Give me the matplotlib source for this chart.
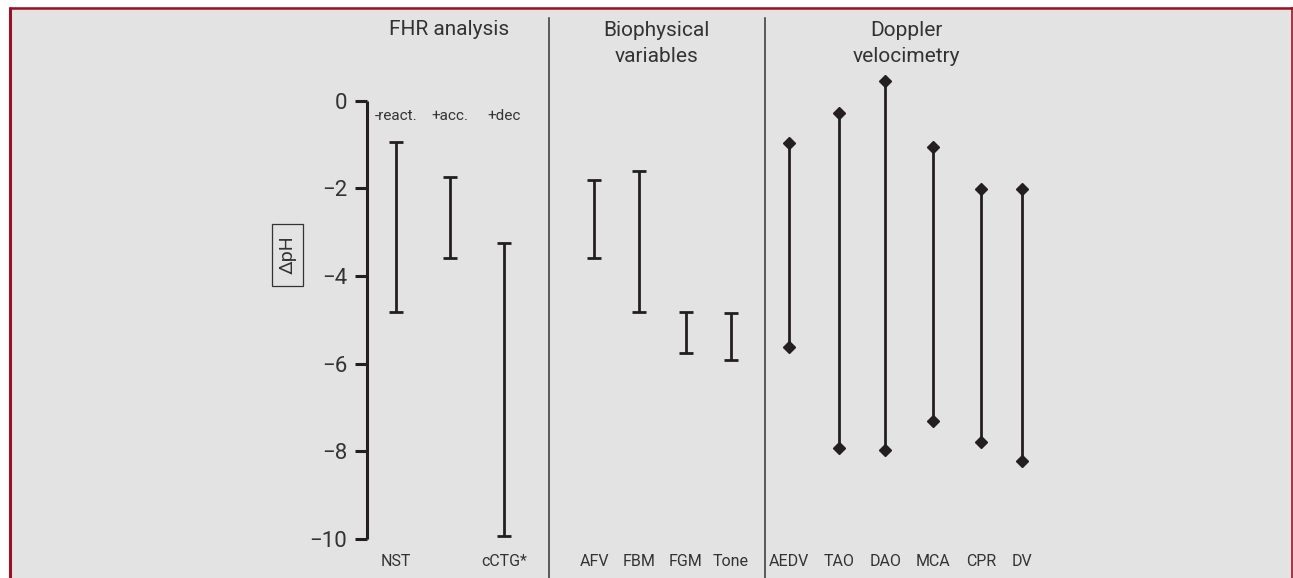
import matplotlib
matplotlib.use("Agg")
import matplotlib.pyplot as plt
from matplotlib.patches import Rectangle
from matplotlib.lines import Line2D
from matplotlib.transforms import blended_transform_factory

plt.rcParams['font.family'] = ['Roboto', 'DejaVu Sans']

# ---------------- data ----------------
fhr_top_labels = ["-react.", "+acc.", "+dec"]
fhr_bottom_labels = ["NST", "", "cCTG*"]
fhr_low = [-4.82, -3.58, -9.93]
fhr_high = [-0.94, -1.73, -3.25]

bio_labels = ["AFV", "FBM", "FGM", "Tone"]
bio_low = [-3.60, -4.82, -5.76, -5.92]
bio_high = [-1.81, -1.60, -4.83, -4.84]

dop_labels = ["AEDV", "TAO", "DAO", "MCA", "CPR", "DV"]
dop_low = [-5.63, -7.93, -7.97, -7.32, -7.79, -8.23]
dop_high = [-0.96, -0.29, 0.45, -1.06, -2.01, -2.02]

group_titles = ["FHR analysis", "Biophysical\nvariables", "Doppler\nvelocimetry"]
yticks = [0, -2, -4, -6, -8, -10]
y_label = "ΔpH"

# ---------------- layout ----------------
fhr_x = [1.0, 2.09, 3.17]
bio_x = [4.97, 5.86, 6.80, 7.70]
dop_x = [8.87, 9.87, 10.79, 11.75, 12.71, 13.53]
title_x = [2.07, 6.22, 11.21]
sep_px = [548.7, 765.0]

W, H = 1293, 578
DPI = 100
INK = '#231f20'
TXT = '#333333'
RED = '#9b1026'

fig = plt.figure(figsize=(W / DPI, H / DPI), dpi=DPI)
fig.patch.set_facecolor('white')

def fx(px):
    return px / W

def fy(py):
    return 1 - py / H

# panel background and border
fig.patches.append(Rectangle((fx(9), 0), fx(1292 - 9), 1 - 7 / H, transform=fig.transFigure,
                             facecolor='#e3e3e3', edgecolor='none', zorder=-10))
fig.lines.append(Line2D([fx(10), fx(10)], [0, fy(7)], transform=fig.transFigure,
                        color=RED, lw=2.2, solid_capstyle='butt', zorder=-5))
fig.lines.append(Line2D([fx(9), fx(1292.5)], [fy(7.7), fy(7.7)], transform=fig.transFigure,
                        color=RED, lw=1.8, solid_capstyle='butt', zorder=-5))
fig.lines.append(Line2D([fx(1292), fx(1292)], [0, fy(7)], transform=fig.transFigure,
                        color=RED, lw=1.2, solid_capstyle='butt', zorder=-5))

# axes
ax_left_px, ax_right_px = 367, 1290
ax_top_px, ax_bot_px = 48.1, 574
unit = 50.0
x0 = 1.0 + (ax_left_px - 395.7) / unit
ax = fig.add_axes([fx(ax_left_px), fy(ax_bot_px), fx(ax_right_px - ax_left_px),
                   (ax_bot_px - ax_top_px) / H])
ax.set_zorder(5)
ax.patch.set_visible(False)
ax.set_xlim(x0, x0 + (ax_right_px - ax_left_px) / unit)
ax.set_ylim(-10.8, 1.2)

for s in ['top', 'right', 'bottom']:
    ax.spines[s].set_visible(False)
ax.spines['left'].set_bounds(-10, 0)
ax.spines['left'].set_linewidth(2.2)
ax.spines['left'].set_color(INK)
ax.spines['left'].set_capstyle('butt')
ax.set_xticks([])
ax.set_yticks(yticks)
ax.set_yticklabels([f"{v}".replace('-', '\u2212') for v in yticks])
ax.tick_params(axis='y', direction='out', length=8.6, width=2.2, color=INK,
               pad=5.5, labelsize=16, labelcolor=TXT)

# error bars with caps (FHR, biophysical)
cap_x = fhr_x + bio_x
cap_low = fhr_low + bio_low
cap_high = fhr_high + bio_high
mids = [(l + h) / 2 for l, h in zip(cap_low, cap_high)]
errs = [(h - l) / 2 for l, h in zip(cap_low, cap_high)]
ax.errorbar(cap_x, mids, yerr=errs, fmt='none', ecolor=INK, elinewidth=2.0,
            capsize=4.7, capthick=2.0)

# Doppler ranges with diamond ends
ax.vlines(dop_x, dop_low, dop_high, color=INK, lw=2.0)
ax.plot(dop_x, dop_low, linestyle='none', marker='D', ms=6.2, color=INK)
ax.plot(dop_x, dop_high, linestyle='none', marker='D', ms=6.2, color=INK)

# labels
tr = blended_transform_factory(ax.transData, fig.transFigure)
for x, lab in zip(fhr_x, fhr_top_labels):
    ax.text(x, fy(116), lab, transform=tr, ha='center', va='center', fontsize=11, color=TXT)

bottom_x = fhr_x + bio_x + dop_x
bottom_labels = fhr_bottom_labels + bio_labels + dop_labels
for x, lab in zip(bottom_x, bottom_labels):
    ax.text(x, fy(562), lab, transform=tr, ha='center', va='center', fontsize=11.5, color=TXT)

for x, t in zip(title_x, group_titles):
    nlines = t.count('\n') + 1
    ax.text(x, fy(35 + 27.5 * (nlines - 1)), t, transform=tr, ha='center', va='baseline',
            fontsize=15, color=TXT, linespacing=1.5)

# separators
for sx in sep_px:
    fig.lines.append(Line2D([fx(sx), fx(sx)], [0, fy(18)], transform=fig.transFigure,
                            color=TXT, lw=1.1))

# y label in a box
fig.patches.append(Rectangle((fx(272), fy(286)), fx(303 - 272), (286 - 224) / H,
                             transform=fig.transFigure, facecolor='none',
                             edgecolor=TXT, lw=0.9))
fig.text(fx(287.5), fy(255), y_label, rotation=90, ha='center', va='center',
         fontsize=14, color=TXT)

fig.savefig('out.png', dpi=DPI)
